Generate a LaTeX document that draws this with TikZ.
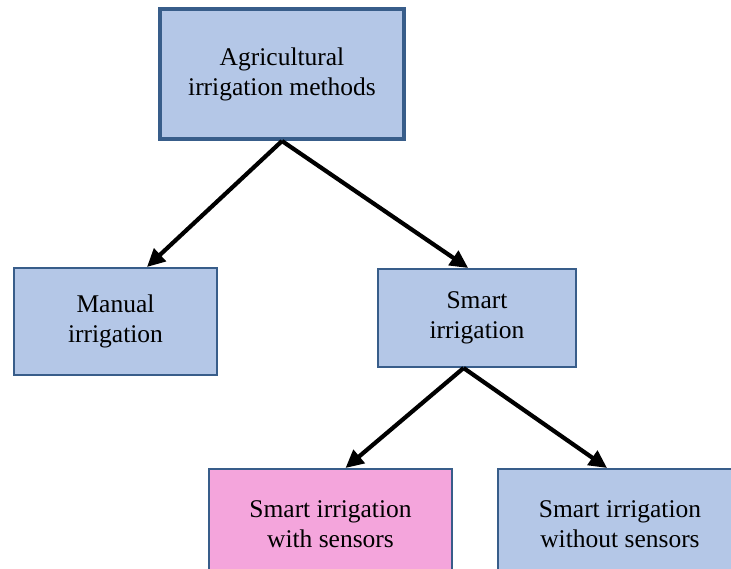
\documentclass[tikz,border=0pt]{standalone}
\usepackage{fontspec}
\setmainfont{Liberation Serif}
\usetikzlibrary{arrows.meta}
\definecolor{boxfill}{RGB}{180,199,231}
\definecolor{boxline}{RGB}{56,93,138}
\definecolor{pinkfill}{RGB}{244,165,220}

\begin{document}
\begin{tikzpicture}[x=1pt,y=-1pt,>={Triangle[length=18pt,width=17pt]},
   box/.style={draw=boxline,fill=boxfill,line width=2pt,align=center,inner sep=0pt,
      font=\fontsize{25.5}{30}\selectfont},
   link/.style={->,line width=4.2pt}]
   % Page size
   \useasboundingbox (0,0) rectangle (731,569);
   % Boxes
   \node [box,line width=4pt,minimum width=244pt,minimum height=130pt] (methods) at (282,74)
      {Agricultural\\irrigation methods};
   \node [box,minimum width=203pt,minimum height=107pt] (manual) at (115.5,321.5)
      {Manual\\irrigation};
   \node [box,minimum width=198pt,minimum height=98pt] (smart) at (477,318)
      {Smart\\irrigation};
   \node [box,fill=pinkfill,minimum width=243pt,minimum height=110pt] (sensors) at (330.5,524)
      {Smart irrigation\\with sensors};
   \node [box,minimum width=244pt,minimum height=110pt] (nosensors) at (620,524)
      {Smart irrigation\\without sensors};
   % Arrows
   \draw [link] (methods.south) -- (manual.60);
   \draw [link] (methods.south) -- (smart.100);
   \draw [link] (smart.255) -- (sensors.75);
   \draw [link] (smart.255) -- (nosensors.103);
\end{tikzpicture}
\end{document}
